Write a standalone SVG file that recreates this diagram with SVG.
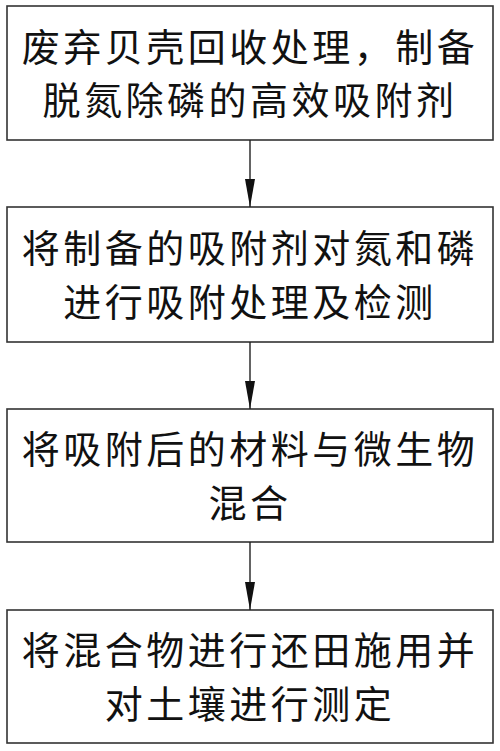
<svg xmlns="http://www.w3.org/2000/svg" width="500" height="751" viewBox="0 0 500 751">
<style>
.box{fill:#fff;stroke:#333;stroke-width:1.6}
.t{font-family:"Noto Sans CJK SC","Noto Sans CJK JP",sans-serif;font-size:38px;letter-spacing:3.5px;fill:#111;text-anchor:middle}
.c{stroke:#222;stroke-width:1.4;fill:none;marker-end:url(#ah)}
</style>
<defs>
<marker id="ah" markerUnits="userSpaceOnUse" markerWidth="28" markerHeight="10" viewBox="0 0 28 10" refX="28" refY="5" orient="auto">
<path d="M0,0 L28,5 L0,10 z" fill="#111"/>
</marker>
</defs>
<rect width="500" height="751" fill="#fff"/>
<g id="n1"><rect class="box" x="7" y="6" width="486" height="134"/>
<text class="t" x="250" y="61">废弃贝壳回收处理，制备</text>
<text class="t" x="250" y="114">脱氮除磷的高效吸附剂</text></g>
<g id="n2"><rect class="box" x="7" y="207" width="486" height="135"/>
<text class="t" x="250" y="262">将制备的吸附剂对氮和磷</text>
<text class="t" x="250" y="316">进行吸附处理及检测</text></g>
<g id="n3"><rect class="box" x="7" y="409" width="486" height="133"/>
<text class="t" x="250" y="463">将吸附后的材料与微生物</text>
<text class="t" x="250" y="517">混合</text></g>
<g id="n4"><rect class="box" x="7" y="610" width="486" height="133"/>
<text class="t" x="250" y="664">将混合物进行还田施用并</text>
<text class="t" x="250" y="718">对土壤进行测定</text></g>
<g id="connectors">
<line class="c" x1="250" y1="140" x2="250" y2="207"/>
<line class="c" x1="250" y1="342" x2="250" y2="409"/>
<line class="c" x1="250" y1="542" x2="250" y2="610"/>
</g>
</svg>
